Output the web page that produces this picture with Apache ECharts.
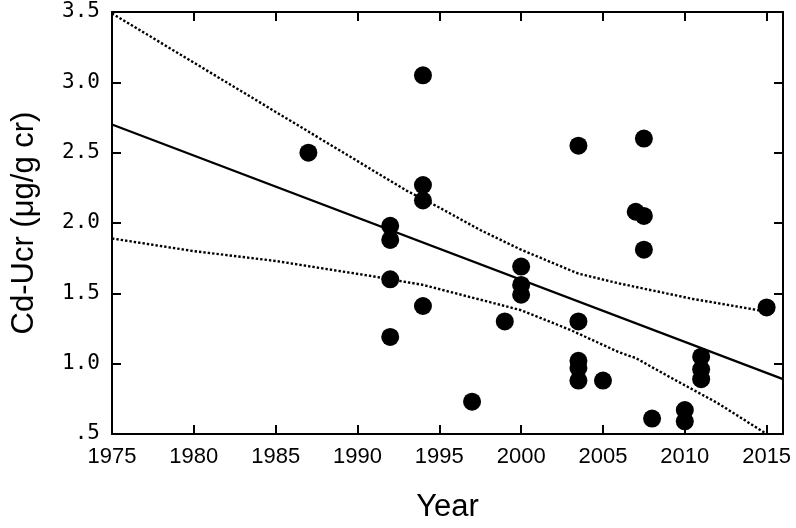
<!DOCTYPE html>
<html>
<head>
<meta charset="utf-8">
<script src="https://cdn.jsdelivr.net/npm/echarts@6/dist/echarts.min.js"></script>
<style>
html, body { margin: 0; padding: 0; background: #fff; }
#chart { width: 796px; height: 528px; }
</style>
</head>
<body>
<div id="chart"></div>
<script>
// measured points: [year, Cd-Ucr]
var points = [
    [1987, 2.50],
    [1992, 1.98], [1992, 1.88], [1992, 1.60], [1992, 1.19],
    [1994, 3.05], [1994, 2.27], [1994, 2.16], [1994, 1.41],
    [1997, 0.73],
    [1999, 1.30],
    [2000, 1.69], [2000, 1.56], [2000, 1.49],
    [2003.5, 2.55], [2003.5, 1.30], [2003.5, 1.02], [2003.5, 0.97], [2003.5, 0.88],
    [2005, 0.88],
    [2007, 2.08],
    [2007.5, 2.60], [2007.5, 2.05], [2007.5, 1.81],
    [2008, 0.61],
    [2010, 0.67], [2010, 0.59],
    [2011, 1.05], [2011, 0.96], [2011, 0.89],
    [2015, 1.40]
];

// regression line and its confidence band
var fitLine = [[1975, 2.70], [2016, 0.89]];
var upperBand = [
    [1975, 3.49], [1982, 3.00], [1987, 2.65], [1993, 2.23], [1995, 2.11],
    [1997.5, 1.95], [2000, 1.81], [2003.5, 1.64], [2006, 1.57], [2010.5, 1.46],
    [2015, 1.37]
];
var lowerBand = [
    [1975, 1.89], [1980, 1.80], [1985, 1.73], [1991, 1.62], [1994, 1.56],
    [2000, 1.38], [2003, 1.24], [2006, 1.08], [2007, 1.04], [2009, 0.91],
    [2012, 0.72], [2015, 0.50]
];

var yearTicks = [1975, 1980, 1985, 1990, 1995, 2000, 2005, 2010, 2015];

var axisLine = { show: true, lineStyle: { color: '#000', width: 2 } };
var tick = { show: true, inside: true, length: 9, lineStyle: { color: '#000', width: 2 } };
var dotted = { color: '#000', width: 2.4, type: [2.4, 2] };

var myChart = echarts.init(document.getElementById('chart'));
var option = {
    animation: false,
    backgroundColor: '#fff',
    grid: { left: 112, right: 13, top: 12, bottom: 92 },
    xAxis: [
        {
            type: 'value', min: 1975, max: 2016, position: 'bottom',
            name: 'Year', nameLocation: 'middle', nameGap: 58,
            nameTextStyle: { fontSize: 31, color: '#000', fontFamily: 'Liberation Sans' },
            axisLine: axisLine,
            axisTick: Object.assign({ customValues: yearTicks }, tick),
            axisLabel: {
                customValues: yearTicks, margin: 12, fontSize: 22, color: '#000', fontFamily: 'Liberation Sans',
                formatter: function (v) { return String(v); }
            },
            splitLine: { show: false }
        },
        {
            type: 'value', min: 1975, max: 2016, position: 'top',
            axisLine: axisLine,
            axisTick: Object.assign({ customValues: yearTicks }, tick),
            axisLabel: { show: false },
            splitLine: { show: false }
        }
    ],
    yAxis: [
        {
            type: 'value', min: 0.5, max: 3.5, interval: 0.5, position: 'left',
            name: 'Cd-Ucr (μg/g cr)', nameLocation: 'middle', nameGap: 72,
            nameTextStyle: { fontSize: 31, color: '#000', fontFamily: 'Liberation Sans' },
            axisLine: axisLine,
            axisTick: tick,
            axisLabel: {
                margin: 12, fontSize: 21, color: '#000', fontFamily: 'DejaVu Sans Mono',
                formatter: function (v) { return v === 0.5 ? '.5' : v.toFixed(1); }
            },
            splitLine: { show: false }
        },
        {
            type: 'value', min: 0.5, max: 3.5, interval: 0.5, position: 'right',
            axisLine: axisLine,
            axisTick: tick,
            axisLabel: { show: false },
            splitLine: { show: false }
        }
    ],
    series: [
        { type: 'line', data: upperBand, symbol: 'none', clip: true, lineStyle: dotted },
        { type: 'line', data: lowerBand, symbol: 'none', clip: true, lineStyle: dotted },
        {
            type: 'line', data: fitLine, symbol: 'none', clip: true,
            lineStyle: { color: '#000', width: 2.2 }
        },
        {
            type: 'scatter', data: points, symbol: 'circle', symbolSize: 18,
            itemStyle: { color: '#000', opacity: 1 }
        }
    ]
};
myChart.setOption(option);
</script>
</body>
</html>
